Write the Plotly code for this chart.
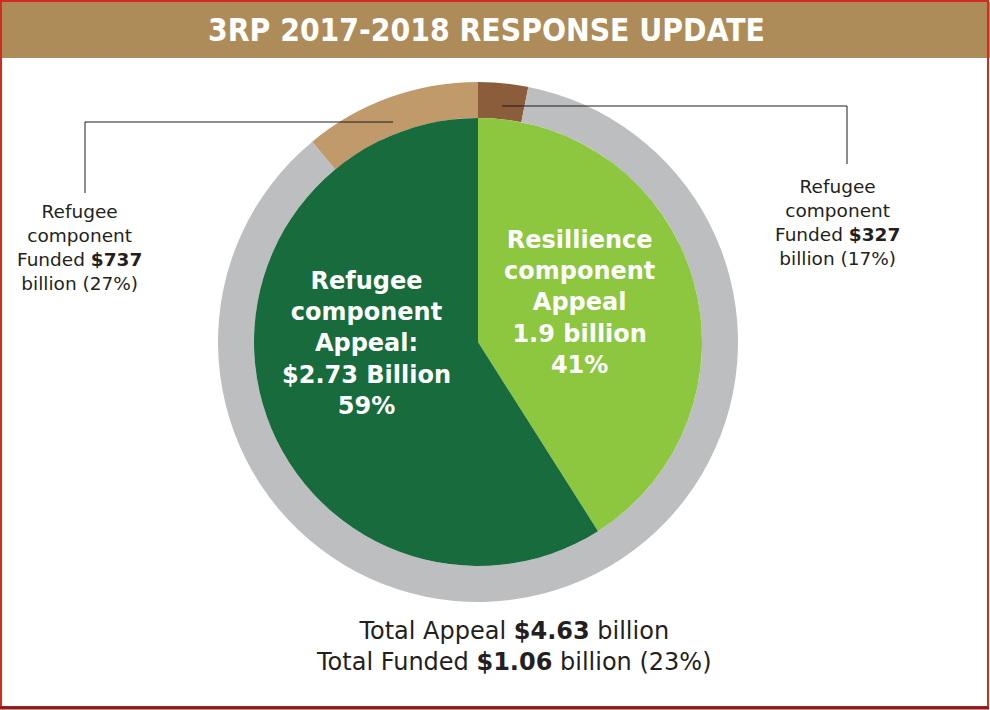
import plotly.graph_objects as go

W, H = 990, 710

# inner pie: share of total appeal (%), clockwise from 12 o'clock
appeal_labels = ["Resilience component", "Refugee component"]
appeal_share = [41, 59]
appeal_colors = ["#8dc63f", "#186b3d"]

# outer ring as drawn (% of circle), clockwise from 12 o'clock
ring_labels = ["Resilience funded", "Not funded", "Refugee funded"]
ring_share = [3.1, 85.9, 11.0]
ring_colors = ["#8b5d3b", "#bcbec0", "#c19a6b"]

title = "3RP 2017-2018 RESPONSE UPDATE"
refugee_text = "Refugee<br>component<br>Appeal:<br>$2.73 Billion<br>59%"
resilience_text = "Resillience<br>component<br>Appeal<br>1.9 billion<br>41%"
left_note = "Refugee<br>component<br>Funded <b>$737</b><br>billion (27%)"
right_note = "Refugee<br>component<br>Funded <b>$327</b><br>billion (17%)"
totals = "Total Appeal <b>$4.63</b> billion<br>Total Funded <b>$1.06</b> billion (23%)"


def px(x):
    return x / W


def py(y):
    return 1 - y / H


cx, cy = 478, 342
r_out, r_in = 260, 224

fig = go.Figure()

fig.add_trace(go.Pie(
    labels=ring_labels, values=ring_share, sort=False, direction="clockwise",
    hole=r_in / r_out, textinfo="none", hoverinfo="label",
    marker=dict(colors=ring_colors, line=dict(width=0)),
    domain=dict(x=[px(cx - r_out), px(cx + r_out)], y=[py(cy + r_out), py(cy - r_out)]),
    showlegend=False,
))

fig.add_trace(go.Pie(
    labels=appeal_labels, values=appeal_share, sort=False, direction="clockwise",
    textinfo="none", hoverinfo="label+percent",
    marker=dict(colors=appeal_colors, line=dict(width=0)),
    domain=dict(x=[px(cx - r_in), px(cx + r_in)], y=[py(cy + r_in), py(cy - r_in)]),
    showlegend=False,
))

shapes = [
    # banner
    dict(type="rect", xref="paper", yref="paper", x0=0, x1=1, y0=py(58), y1=py(2),
         fillcolor="#ad8c59", line=dict(width=0), layer="below"),
    # frame
    dict(type="rect", xref="paper", yref="paper", x0=px(1), x1=px(988), y0=py(707), y1=py(1),
         line=dict(color="#d22b1f", width=2)),
    dict(type="line", xref="paper", yref="paper", x0=0, x1=px(989), y0=py(708), y1=py(708),
         line=dict(color="#8b1a1a", width=3)),
    # leader lines
    dict(type="path", xref="paper", yref="paper",
         path=f"M {px(393)},{py(122)} L {px(85)},{py(122)} L {px(85)},{py(193)}",
         line=dict(color="#1a1a1a", width=1)),
    dict(type="path", xref="paper", yref="paper",
         path=f"M {px(502)},{py(106)} L {px(847)},{py(106)} L {px(847)},{py(164)}",
         line=dict(color="#1a1a1a", width=1)),
]

sans = "DejaVu Sans"
annotations = [
    dict(text=f"<b>{title}</b>", x=px(486), y=py(30),
         font=dict(family="DejaVu Sans Condensed", size=31.5, color="white")),
    dict(text=f"<b>{refugee_text}</b>", x=px(366), y=py(343),
         font=dict(family=sans, size=24, color="white")),
    dict(text=f"<b>{resilience_text}</b>", x=px(579), y=py(302),
         font=dict(family=sans, size=24, color="white")),
    dict(text=left_note, x=px(79), y=py(248),
         font=dict(family=sans, size=18.5, color="#231f20")),
    dict(text=right_note, x=px(837), y=py(222),
         font=dict(family=sans, size=18.5, color="#231f20")),
    dict(text=totals, x=px(514), y=py(646),
         font=dict(family=sans, size=24, color="#231f20")),
]
for a in annotations:
    a.update(xref="paper", yref="paper", showarrow=False, xanchor="center", yanchor="middle")

fig.update_layout(
    width=W, height=H, margin=dict(l=0, r=0, t=0, b=0),
    paper_bgcolor="white", plot_bgcolor="white",
    shapes=shapes, annotations=annotations,
)

# drop the browser's default page margin so the figure sits at the window corner
fig.write_html("out.html", config={"displayModeBar": False},
               post_script="document.body.style.margin='0';")
